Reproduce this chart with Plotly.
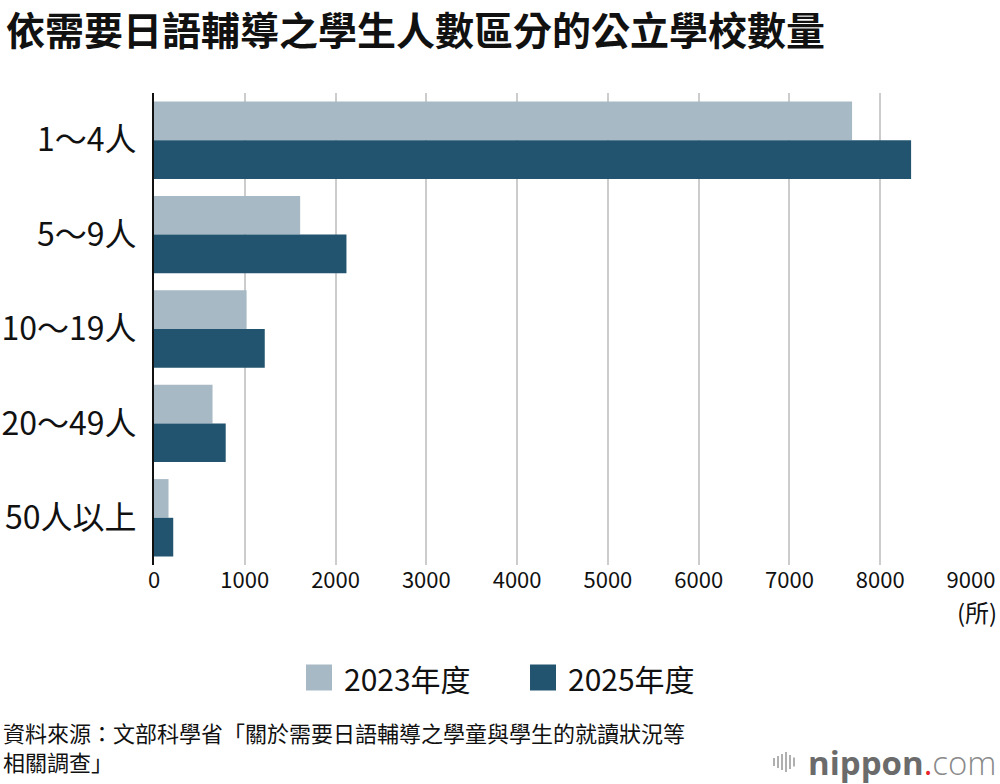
import plotly.graph_objects as go

categories = ["1～4人", "5～9人", "10～19人", "20～49人", "50人以上"]
series_names = ["2023年度", "2025年度"]
values_2023 = [7690, 1610, 1020, 645, 160]
values_2025 = [8340, 2120, 1220, 790, 212]
x_ticks = [0, 1000, 2000, 3000, 4000, 5000, 6000, 7000, 8000, 9000]
colors = ["#a7b9c4", "#22546f"]

FONT = "Noto Sans CJK TC"
W, H = 1000, 784
ML, MR, MT, MB = 154, 29, 93, 219
PW, PH = W - ML - MR, H - MT - MB


def px(xp):
    return (xp - ML) / PW


def py(yp):
    return (H - MB - yp) / PH


fig = go.Figure()
for name, vals, col in zip(series_names, [values_2023, values_2025], colors):
    fig.add_trace(go.Bar(
        y=categories, x=vals, name=name, orientation="h",
        marker=dict(color=col, line=dict(width=0)),
        showlegend=False,
    ))

fig.update_layout(
    width=W, height=H,
    margin=dict(l=ML, r=MR, t=MT, b=MB, autoexpand=False),
    paper_bgcolor="white", plot_bgcolor="white",
    barmode="group", bargap=0.18, bargroupgap=0,
    font=dict(family=FONT, color="#111111"),
    xaxis=dict(range=[0, 9000], tickvals=x_ticks, ticktext=[str(v) for v in x_ticks],
               showgrid=True, gridcolor="#cccccc", gridwidth=2,
               zeroline=False, showline=False, automargin=False,
               ticks="", ticklen=0,
               tickfont=dict(size=22, family=FONT, color="#111111")),
    yaxis=dict(categoryorder="array", categoryarray=categories,
               autorange="reversed", automargin=False,
               showline=True, linecolor="#111111", linewidth=2,
               showgrid=False, zeroline=False,
               ticks="outside", ticklen=9, tickcolor="rgba(0,0,0,0)",
               tickfont=dict(size=32, family=FONT, color="#111111")),
)

# title
fig.add_annotation(text="<b>依需要日語輔導之學生人數區分的公立學校數量</b>",
                   x=px(4), y=py(28), xref="paper", yref="paper",
                   xanchor="left", yanchor="middle", showarrow=False,
                   font=dict(size=39, family=FONT, color="#111111"))

# unit label
fig.add_annotation(text="(所)", x=px(999), y=py(611), xref="paper", yref="paper",
                   xanchor="right", yanchor="middle", showarrow=False,
                   font=dict(size=24, family=FONT, color="#111111"))

# manual legend
leg = [(306, 342, series_names[0], colors[0]), (530, 566, series_names[1], colors[1])]
for sx, tx, name, col in leg:
    fig.add_shape(type="rect", xref="paper", yref="paper",
                  x0=px(sx), x1=px(sx + 26), y0=py(690.5), y1=py(664.5),
                  fillcolor=col, line=dict(width=0))
    fig.add_annotation(text=name, x=px(tx), y=py(678), xref="paper", yref="paper",
                       xanchor="left", yanchor="middle", showarrow=False,
                       font=dict(size=30, family=FONT, color="#111111"))

# source
source_text = "資料來源：文部科學省「關於需要日語輔導之學童與學生的就讀狀況等<br>相關調查」"
fig.add_annotation(text=source_text, x=px(1), y=py(746), xref="paper", yref="paper",
                   xanchor="left", yanchor="middle", align="left", showarrow=False,
                   font=dict(size=22, family=FONT, color="#111111"))

# logo
fig.add_annotation(text="<span style='font-weight:bold;color:#6b6b6b'>nippon</span>"
                        "<span style='color:#e8242b'>.</span>"
                        "<span style='color:#8a8a8a;font-weight:300'>com</span>",
                   x=px(999), y=py(762), xref="paper", yref="paper",
                   xanchor="right", yanchor="middle", showarrow=False,
                   font=dict(size=33, family="Open Sans", color="#6b6b6b"))
wave = [(774, 8), (778, 12), (782, 16), (786, 20), (790, 14), (794, 9)]
for wx, hh in wave:
    fig.add_shape(type="line", xref="paper", yref="paper",
                  x0=px(wx), x1=px(wx), y0=py(762 - hh / 2), y1=py(762 + hh / 2),
                  line=dict(color="#b0b0b0", width=2))

fig.write_html("out.html")
